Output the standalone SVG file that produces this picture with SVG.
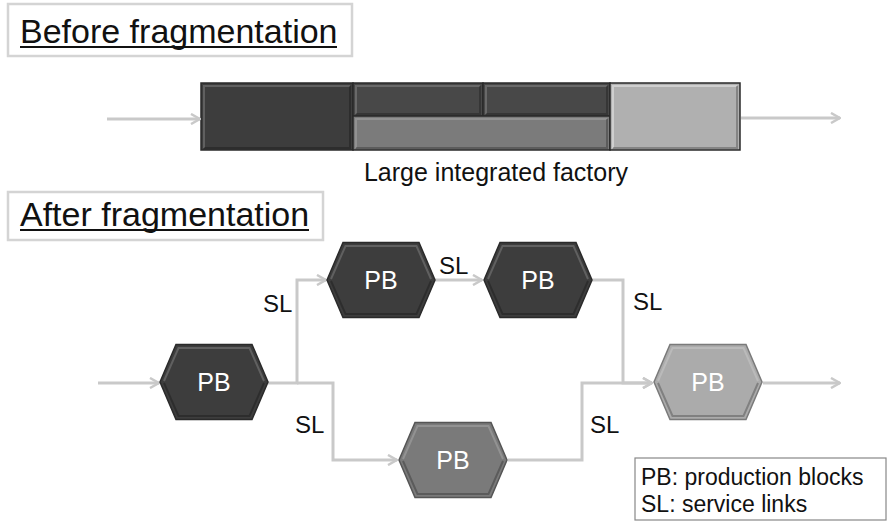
<svg xmlns="http://www.w3.org/2000/svg" xmlns:xlink="http://www.w3.org/1999/xlink" width="889" height="530" viewBox="0 0 889 530">
<style>
  text { font-family: "Liberation Sans", Arial, sans-serif; }
  .title { font-size: 34px; fill: #111; }
  .tbox { fill: #fff; stroke: #d4d4d4; stroke-width: 2.5; }
  .uline { stroke: #111; stroke-width: 2; }
  .lbl { font-size: 24px; fill: #111; }
  .leg { font-size: 23px; fill: #111; }
  .pb { font-size: 25px; fill: #fff; text-anchor: middle; }
  .conn { fill: none; stroke: #c9c9c9; stroke-width: 3; }
  .dark { fill: #3d3d3d; stroke: #2a2a2a; stroke-width: 1.5; }
  .mid { fill: #7a7a7a; stroke: #555; stroke-width: 1.5; }
  .light { fill: #ababab; stroke: #7a7a7a; stroke-width: 1.5; }
  .bevel { fill: none; stroke: #ffffff; stroke-opacity: 0.18; stroke-width: 2; }
  .shade { fill: none; stroke: #000; stroke-opacity: 0.25; stroke-width: 2; }
  .seg { stroke: #2a2a2a; stroke-width: 1.5; }
</style>
<defs>
  <marker id="arr" viewBox="0 0 12 12" refX="11" refY="6" markerWidth="12" markerHeight="12" markerUnits="userSpaceOnUse" orient="auto">
    <polyline points="2,1 11,6 2,11" fill="none" stroke="#c9c9c9" stroke-width="2.5"/>
  </marker>
  <polygon id="hex" points="-54,0 -38,-37.5 38,-37.5 54,0 38,37.5 -38,37.5"/>
  <polyline id="hexTop" points="-50,-1 -35.5,-34 35.5,-34 50,-1"/>
  <polyline id="hexBot" points="50,1 35.5,34 -35.5,34 -50,1"/>
</defs>

<!-- Title: before -->
<g id="title-before">
  <rect class="tbox" x="8" y="4" width="344" height="52"/>
  <text class="title" x="20" y="43">Before fragmentation</text>
  <line class="uline" x1="20" y1="47" x2="337" y2="47"/>
</g>

<!-- Factory -->
<g id="factory">
  <rect class="seg" x="201" y="83" width="152" height="67" fill="#3d3d3d"/>
  <rect class="seg" x="353" y="83" width="130" height="33" fill="#484848"/>
  <rect class="seg" x="483" y="83" width="127" height="33" fill="#484848"/>
  <rect class="seg" x="353" y="116" width="257" height="34" fill="#7b7b7b" stroke="#555"/>
  <rect class="seg" x="610" y="83" width="130" height="67" fill="#b0b0b0" stroke="#777"/>
  <g class="bevel">
    <polyline points="204,148 204,86 350,86"/>
    <polyline points="356,114 356,86 480,86"/>
    <polyline points="486,114 486,86 607,86"/>
    <polyline points="356,148 356,119 607,119"/>
    <polyline points="613,148 613,86 737,86" stroke-opacity="0.4"/>
  </g>
  <g class="shade">
    <polyline points="350,86 350,148 204,148"/>
    <polyline points="480,86 480,114 356,114"/>
    <polyline points="607,86 607,114 486,114"/>
    <polyline points="607,119 607,148 356,148"/>
    <polyline points="737,86 737,148 613,148"/>
  </g>
  <text class="lbl" x="496" y="181" text-anchor="middle" style="font-size:25px">Large integrated factory</text>
</g>

<!-- Title: after -->
<g id="title-after">
  <rect class="tbox" x="8" y="192" width="315" height="48"/>
  <text class="title" x="20" y="226">After fragmentation</text>
  <line class="uline" x1="20" y1="230" x2="309" y2="230"/>
</g>

<!-- Connectors -->
<g id="connectors">
  <line class="conn" x1="107" y1="119" x2="200" y2="119" marker-end="url(#arr)"/>
  <line class="conn" x1="741" y1="118" x2="840" y2="118" marker-end="url(#arr)"/>
  <line class="conn" x1="98" y1="383" x2="159" y2="383" marker-end="url(#arr)"/>
  <polyline class="conn" points="268,383 297,383 297,280 326,280" marker-end="url(#arr)"/>
  <polyline class="conn" points="297,383 333,383 333,460 397,460" marker-end="url(#arr)"/>
  <line class="conn" x1="435" y1="280" x2="482" y2="280" marker-end="url(#arr)"/>
  <polyline class="conn" points="592,280 623,280 623,383 652,383" marker-end="url(#arr)"/>
  <polyline class="conn" points="508,460 582,460 582,383 652,383" marker-end="url(#arr)"/>
  <line class="conn" x1="763" y1="383" x2="840" y2="383" marker-end="url(#arr)"/>
  <text class="lbl" x="263" y="312">SL</text>
  <text class="lbl" x="439" y="274">SL</text>
  <text class="lbl" x="633" y="310">SL</text>
  <text class="lbl" x="295" y="433">SL</text>
  <text class="lbl" x="590" y="433">SL</text>
</g>

<!-- Production blocks -->
<g id="pb0" transform="translate(214,382)">
  <use xlink:href="#hex" class="dark"/>
  <use xlink:href="#hexTop" class="bevel"/>
  <use xlink:href="#hexBot" class="shade"/>
  <text class="pb" x="0" y="9">PB</text>
</g>
<g id="pb1" transform="translate(381,280)">
  <use xlink:href="#hex" class="dark"/>
  <use xlink:href="#hexTop" class="bevel"/>
  <use xlink:href="#hexBot" class="shade"/>
  <text class="pb" x="0" y="9">PB</text>
</g>
<g id="pb2" transform="translate(538,280)">
  <use xlink:href="#hex" class="dark"/>
  <use xlink:href="#hexTop" class="bevel"/>
  <use xlink:href="#hexBot" class="shade"/>
  <text class="pb" x="0" y="9">PB</text>
</g>
<g id="pb3" transform="translate(453,460)">
  <use xlink:href="#hex" class="mid"/>
  <use xlink:href="#hexTop" class="bevel"/>
  <use xlink:href="#hexBot" class="shade"/>
  <text class="pb" x="0" y="9">PB</text>
</g>
<g id="pb4" transform="translate(708,382)">
  <use xlink:href="#hex" class="light"/>
  <use xlink:href="#hexTop" class="bevel" stroke-opacity="0.4"/>
  <use xlink:href="#hexBot" class="shade"/>
  <text class="pb" x="0" y="9">PB</text>
</g>

<!-- Legend -->
<g id="legend">
  <rect x="635" y="458" width="251" height="62" fill="#fff" stroke="#888" stroke-width="1.2"/>
  <text class="leg" x="641" y="485">PB: production blocks</text>
  <text class="leg" x="641" y="512">SL: service links</text>
</g>
</svg>
